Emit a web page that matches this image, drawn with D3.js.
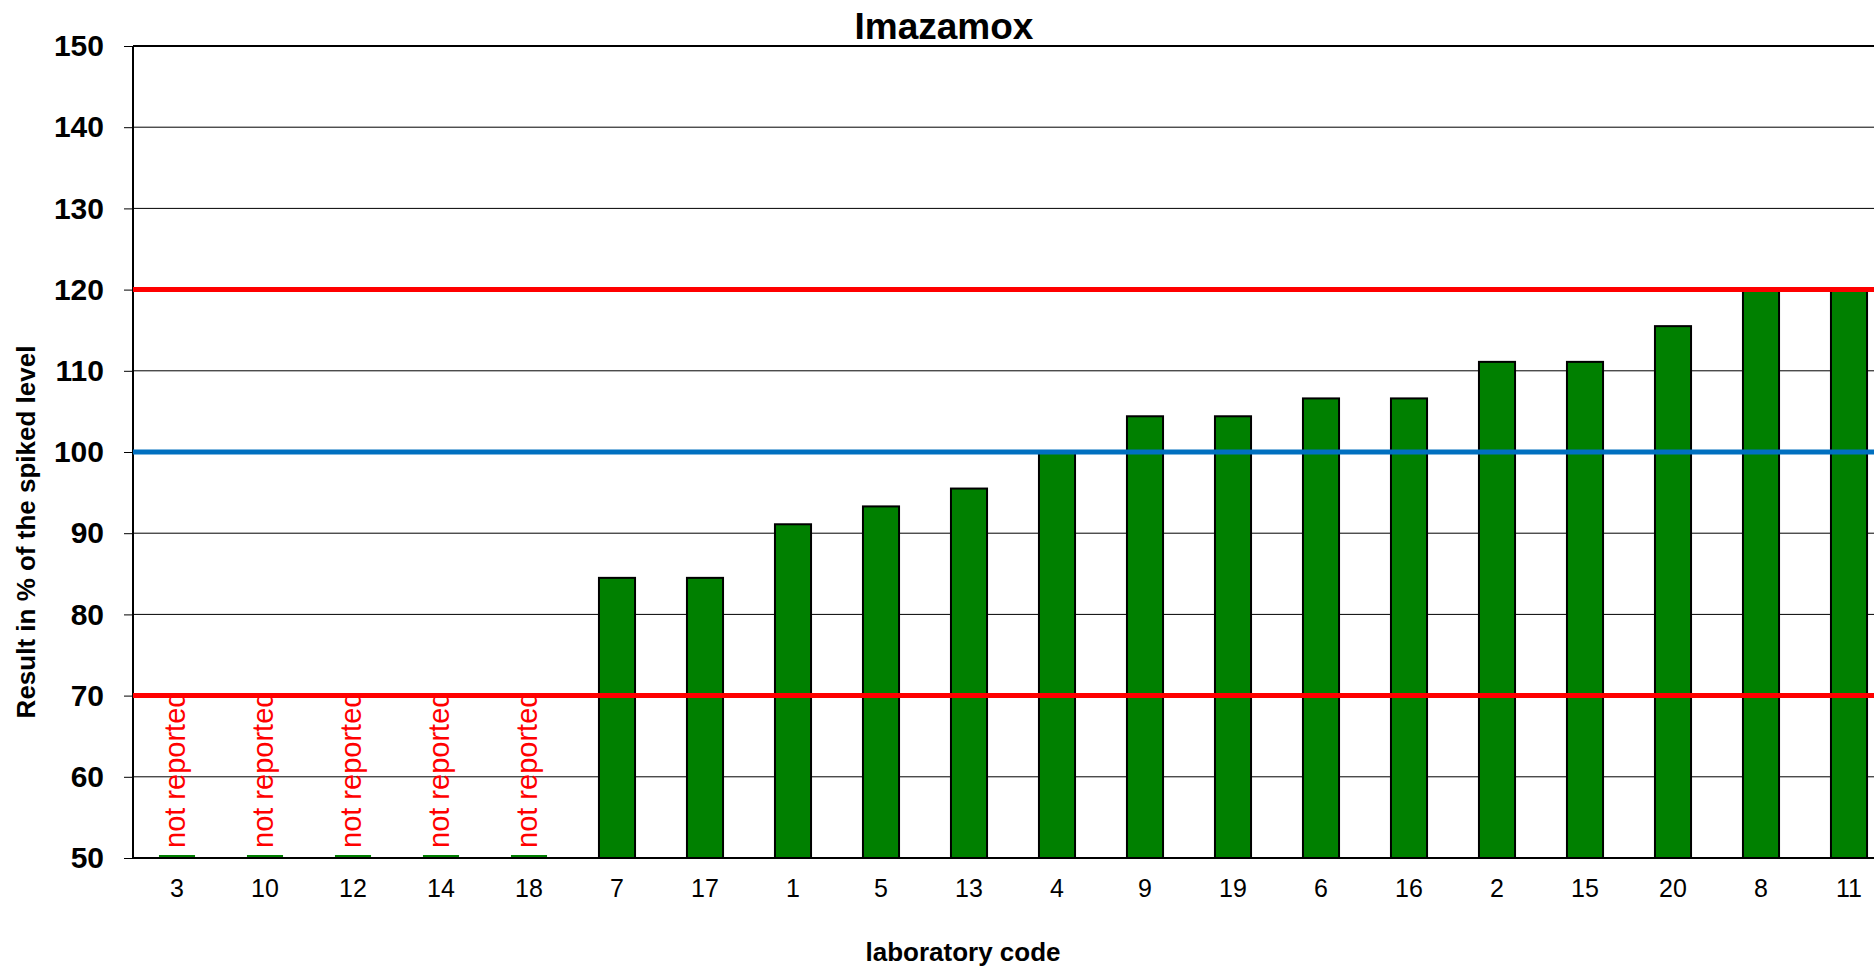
<!DOCTYPE html>
<html>
<head>
  <meta charset="utf-8">
  <title>Imazamox</title>
  <style>
    body { margin: 0; background: #fff; }
    svg { display: block; font-family: Arial, "Liberation Sans", sans-serif; }
    .ytick text { font-size: 30px; font-weight: bold; fill: #000; }
    .xtick text { font-size: 25px; fill: #000; }
    .nr { font-size: 29px; fill: #ff0000; }
  </style>
  <script src="https://d3js.org/d3.v7.min.js"></script>
</head>
<body>
  <script>
    // laboratory codes in plotted order, result in % of spiked level (null = not reported)
    var labs = ["3","10","12","14","18","7","17","1","5","13","4","9","19","6","16","2","15","20","8","11"];
    var results = [null,null,null,null,null,84.5,84.5,91.1,93.3,95.5,100,104.4,104.4,106.6,106.6,111.1,111.1,115.5,120,120];
    var yTicks = [50,60,70,80,90,100,110,120,130,140,150];
    var limits = [70,120];   // acceptable range
    var target = 100;

    var width = 1874, height = 968;
    var plotLeft = 133, plotTop = 46, plotBottom = 858;
    var step = 88;
    var plotRight = plotLeft + step * labs.length;

    var svg = d3.select('body').append('svg')
      .attr('width', width)
      .attr('height', height);

    var x = d3.scaleBand()
      .domain(labs)
      .range([plotLeft, plotRight])
      .paddingInner(0.59)
      .paddingOuter(0.295);

    var y = d3.scaleLinear()
      .domain([50, 150])
      .range([plotBottom, plotTop]);

    // gridlines
    svg.append('g')
      .selectAll('line')
      .data(yTicks.filter(d => d > 50 && d < 150))
      .enter().append('line')
      .attr('x1', plotLeft).attr('x2', plotRight)
      .attr('y1', d => y(d)).attr('y2', d => y(d))
      .attr('stroke', '#000').attr('stroke-width', 1);

    // y axis
    var yAxis = svg.append('g')
      .attr('class', 'ytick')
      .attr('transform', 'translate(' + plotLeft + ',0)')
      .call(d3.axisLeft(y).tickValues(yTicks).tickSize(9).tickPadding(20));
    yAxis.select('.domain').remove();
    yAxis.selectAll('.tick line').attr('stroke', '#000').attr('stroke-width', 1);

    // bars
    svg.append('g')
      .selectAll('rect')
      .data(labs)
      .enter().append('rect')
      .attr('x', d => x(d))
      .attr('width', x.bandwidth())
      .attr('y', (d, i) => results[i] == null ? y(50) : y(results[i]))
      .attr('height', (d, i) => results[i] == null ? 0 : y(50) - y(results[i]))
      .attr('fill', '#008000')
      .attr('stroke', '#000')
      .attr('stroke-width', 2);

    // zero-height markers for not reported
    svg.append('g')
      .selectAll('line')
      .data(labs.filter((d, i) => results[i] == null))
      .enter().append('line')
      .attr('x1', d => x(d)).attr('x2', d => x(d) + x.bandwidth())
      .attr('y1', y(50) - 2).attr('y2', y(50) - 2)
      .attr('stroke', '#008000').attr('stroke-width', 2);

    // "not reported" labels
    svg.append('clipPath').attr('id', 'nrclip')
      .append('rect')
      .attr('x', plotLeft).attr('y', y(70))
      .attr('width', plotRight - plotLeft).attr('height', y(50) - y(70));

    svg.append('g')
      .attr('clip-path', 'url(#nrclip)')
      .selectAll('text')
      .data(labs.filter((d, i) => results[i] == null))
      .enter().append('text')
      .attr('class', 'nr')
      .attr('transform', d => 'translate(' + (x(d) + x.bandwidth() / 2 + 8) + ',' + (y(50) - 10) + ') rotate(-90)')
      .text('not reported');

    // axis frame
    svg.append('line')
      .attr('x1', plotLeft).attr('x2', plotRight)
      .attr('y1', y(150)).attr('y2', y(150))
      .attr('stroke', '#000').attr('stroke-width', 2);
    svg.append('line')
      .attr('x1', plotLeft).attr('x2', plotRight)
      .attr('y1', y(50)).attr('y2', y(50))
      .attr('stroke', '#000').attr('stroke-width', 2);
    svg.append('line')
      .attr('x1', plotLeft).attr('x2', plotLeft)
      .attr('y1', y(150)).attr('y2', y(50))
      .attr('stroke', '#000').attr('stroke-width', 2);

    // limit lines
    svg.append('g')
      .selectAll('line')
      .data(limits)
      .enter().append('line')
      .attr('x1', plotLeft).attr('x2', plotRight)
      .attr('y1', d => y(d)).attr('y2', d => y(d))
      .attr('stroke', '#ff0000').attr('stroke-width', 5);

    svg.append('line')
      .attr('x1', plotLeft).attr('x2', plotRight)
      .attr('y1', y(target)).attr('y2', y(target))
      .attr('stroke', '#0070c0').attr('stroke-width', 5);

    // x axis labels
    var xAxis = svg.append('g')
      .attr('class', 'xtick')
      .attr('transform', 'translate(0,' + plotBottom + ')')
      .call(d3.axisBottom(x).tickSize(0).tickPadding(21));
    xAxis.select('.domain').remove();
    xAxis.selectAll('text').attr('font-family', null).attr('font-size', null);
    yAxis.selectAll('text').attr('font-family', null).attr('font-size', null);

    // titles
    svg.append('text')
      .attr('x', 944).attr('y', 39)
      .attr('text-anchor', 'middle')
      .style('font-size', '37px').style('font-weight', 'bold')
      .text('Imazamox');

    svg.append('text')
      .attr('x', 963).attr('y', 961)
      .attr('text-anchor', 'middle')
      .style('font-size', '26px').style('font-weight', 'bold')
      .text('laboratory code');

    svg.append('text')
      .attr('transform', 'translate(35,532) rotate(-90)')
      .attr('text-anchor', 'middle')
      .style('font-size', '26px').style('font-weight', 'bold')
      .text('Result in % of the spiked level');
  </script>
</body>
</html>
